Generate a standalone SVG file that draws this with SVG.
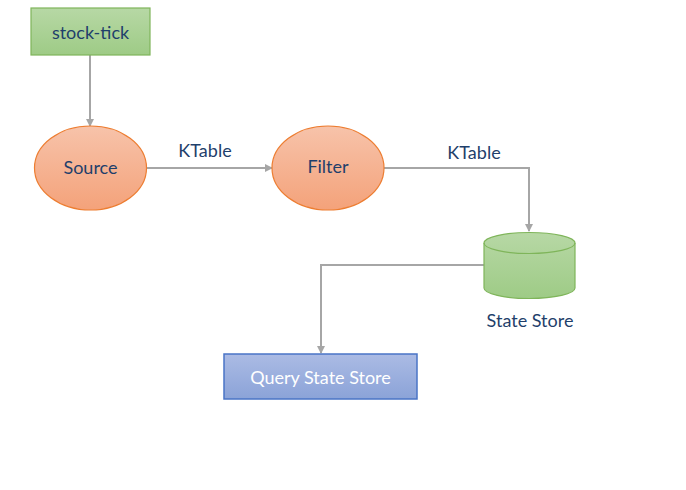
<svg xmlns="http://www.w3.org/2000/svg" width="686" height="490" viewBox="0 0 686 490">
<defs>
<linearGradient id="gGreen" x1="0" y1="0" x2="0" y2="1"><stop offset="0" stop-color="#b7d8a5"/><stop offset="1" stop-color="#9ecb86"/></linearGradient>
<linearGradient id="gOrange" x1="0" y1="0" x2="0" y2="1"><stop offset="0" stop-color="#f7c3aa"/><stop offset="1" stop-color="#f4a27a"/></linearGradient>
<linearGradient id="gBlue" x1="0" y1="0" x2="0" y2="1"><stop offset="0" stop-color="#abbbe4"/><stop offset="1" stop-color="#8ba3d8"/></linearGradient>
<marker id="arr" markerWidth="8" markerHeight="8" refX="7" refY="4" orient="auto" markerUnits="userSpaceOnUse"><path d="M0,0 L8,4 L0,8 Z" fill="#a6a6a6"/></marker>
<style>
.lbl{font-family:Lato,"Open Sans","Liberation Sans",sans-serif;font-size:18px;fill:#1f3f6b;text-anchor:middle}
.conn{fill:none;stroke:#a6a6a6;stroke-width:2}
.green{fill:url(#gGreen);stroke:#7fb55a;stroke-width:1.2}
.orange{fill:url(#gOrange);stroke:#ed7d31;stroke-width:1.2}
.blue{fill:url(#gBlue);stroke:#4a74c6;stroke-width:1.5}
</style>
</defs>
<rect width="686" height="490" fill="#ffffff"/>
<g id="connectors">
<path class="conn" d="M90,55 V126" marker-end="url(#arr)"/>
<path class="conn" d="M147,168 H272" marker-end="url(#arr)"/>
<path class="conn" d="M384,168 H529 V231" marker-end="url(#arr)"/>
<path class="conn" d="M484,265 H321 V353" marker-end="url(#arr)"/>
<text class="lbl" x="205" y="157">KTable</text>
<text class="lbl" x="474" y="159">KTable</text>
</g>
<g id="stock-tick">
<rect class="green" x="31" y="8" width="119" height="47"/>
<text class="lbl" x="90.5" y="39">stock-tick</text>
</g>
<g id="source">
<ellipse class="orange" cx="90.5" cy="168" rx="56" ry="42"/>
<text class="lbl" x="90.5" y="174">Source</text>
</g>
<g id="filter">
<ellipse class="orange" cx="328" cy="168" rx="56" ry="42"/>
<text class="lbl" x="328" y="173">Filter</text>
</g>
<g id="state-store">
<path class="green" d="M484,243 A45.5,10.5 0 0 1 575,243 V288 A45.5,10.5 0 0 1 484,288 Z"/>
<path fill="none" stroke="#7fb55a" stroke-width="1.2" d="M484,243 A45.5,10.5 0 0 0 575,243"/>
<text class="lbl" x="530" y="327">State Store</text>
</g>
<g id="query-state-store">
<rect class="blue" x="224" y="354" width="193" height="45"/>
<text class="lbl" x="320.5" y="384" style="fill:#ffffff">Query State Store</text>
</g>
</svg>
